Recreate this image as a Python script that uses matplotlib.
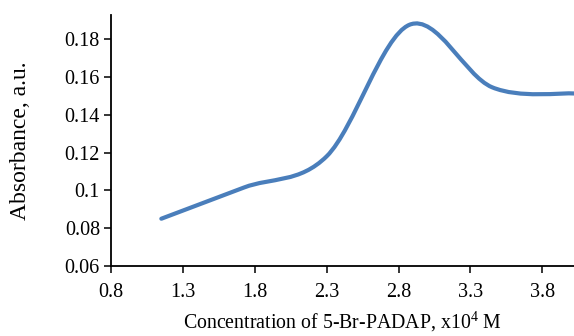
import matplotlib
matplotlib.use("Agg")
import matplotlib.pyplot as plt
from matplotlib.path import Path
from matplotlib.patches import PathPatch
import numpy as np

# measured points (concentration x10^4 M, absorbance)
conc = [1.15, 1.725, 2.3, 2.875, 3.45, 4.025]
absorb = [0.085, 0.1015, 0.118, 0.1875, 0.1545, 0.1512]

x_ticks = [0.8, 1.3, 1.8, 2.3, 2.8, 3.3, 3.8]
y_ticks = [0.06, 0.08, 0.1, 0.12, 0.14, 0.16, 0.18]
y_tick_labels = ["0.06", "0.08", "0.1", "0.12", "0.14", "0.16", "0.18"]

plt.rcParams["font.family"] = ["Liberation Serif", "DejaVu Serif"]
plt.rcParams["mathtext.fontset"] = "custom"
plt.rcParams["mathtext.rm"] = "Liberation Serif"

fig = plt.figure(figsize=(5.74, 3.36), dpi=100)
ax = fig.add_axes([0.1934, 0.2083, 0.8066, 0.7471])

ax.set_xlim(0.8, 4.02)
ax.set_ylim(0.06, 0.1927)


def smooth_path(ax, xs, ys):
    # Excel style smoothed line: cubic bezier segments built in display space
    pts = ax.transData.transform(np.column_stack([xs, ys]))
    n = len(pts)
    verts = [pts[0]]
    codes = [Path.MOVETO]
    for i in range(n - 1):
        p_prev = pts[i - 1] if i > 0 else pts[i]
        p_next2 = pts[i + 2] if i + 2 < n else pts[i + 1]
        c1 = pts[i] + (pts[i + 1] - p_prev) / 6.0
        c2 = pts[i + 1] - (p_next2 - pts[i]) / 6.0
        verts += [c1, c2, pts[i + 1]]
        codes += [Path.CURVE4] * 3
    verts = ax.transData.inverted().transform(np.array(verts))
    return Path(verts, codes)


fig.canvas.draw()
patch = PathPatch(smooth_path(ax, conc, absorb), facecolor="none",
                  edgecolor="#4a7ebb", lw=3.0, capstyle="round", clip_on=False)
ax.add_patch(patch)

ax.set_xticks(x_ticks)
ax.set_xticklabels([f"{v:.1f}" for v in x_ticks])
ax.set_yticks(y_ticks)
ax.set_yticklabels(y_tick_labels)

for side in ["top", "right"]:
    ax.spines[side].set_visible(False)
for side in ["left", "bottom"]:
    ax.spines[side].set_linewidth(1.3)

ax.tick_params(axis="both", direction="out", length=5, width=1.1,
               labelsize=14.5, colors="black")
ax.tick_params(axis="x", pad=7)
ax.tick_params(axis="y", pad=3)

ax.set_ylabel("Absorbance, a.u.", fontsize=17, labelpad=24)
ax.set_xlabel("Concentration of 5-Br-PADAP, x10$\\mathregular{^{4}}$ M",
              fontsize=14.3, labelpad=6)

fig.savefig("out.png", dpi=100)
